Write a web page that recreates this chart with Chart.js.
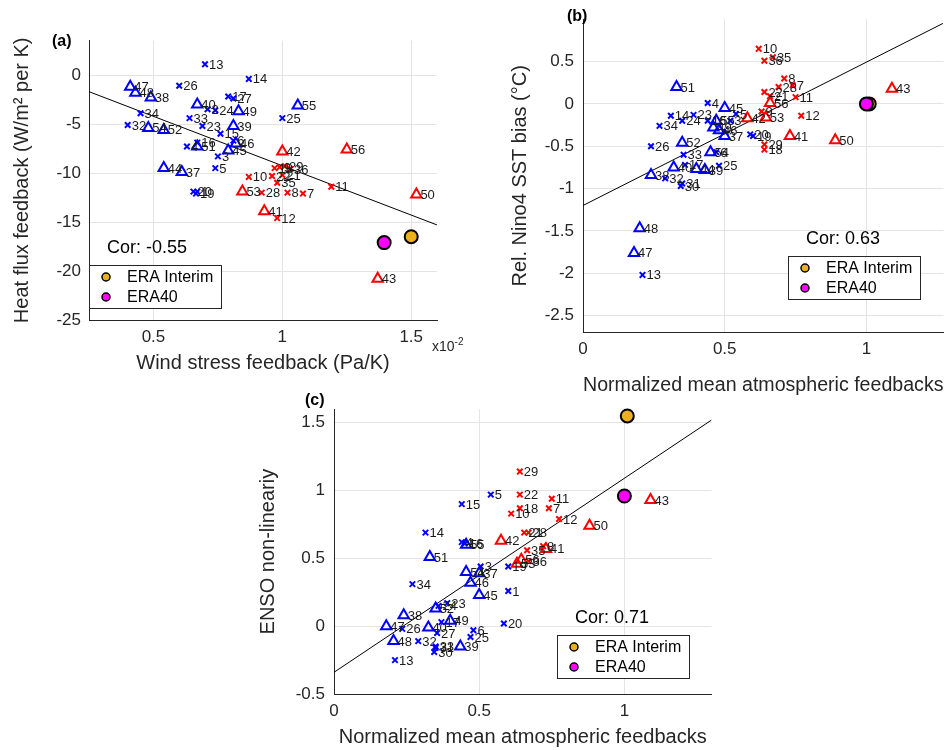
<!DOCTYPE html>
<html>
<head>
<meta charset="utf-8">
<script src="https://cdn.jsdelivr.net/npm/chart.js@4"></script>
<style>
  html, body { margin: 0; padding: 0; background: #fff; overflow: hidden; }
  body { width: 952px; height: 750px; position: relative; font-family: "Liberation Sans", Arial, sans-serif; }
  canvas { position: absolute; }
  .tag { position: absolute; font-weight: bold; font-size: 16px; color: #000; }
  .expo { position: absolute; font-size: 14px; color: #262626; }
  .expo sup { font-size: 10px; }
</style>
</head>
<body>
<canvas id="chartA" width="470" height="380" style="left:0;top:0"></canvas>
<canvas id="chartB" width="482" height="400" style="left:470px;top:0"></canvas>
<canvas id="chartC" width="480" height="360" style="left:240px;top:390px"></canvas>
<div class="tag" style="left:52px;top:32px">(a)</div>
<div class="tag" style="left:567px;top:7px">(b)</div>
<div class="tag" style="left:305px;top:391px">(c)</div>
<div class="expo" style="left:432px;top:336px">x10<sup>-2</sup></div>
<script>
const FONT = '"Liberation Sans", Arial, sans-serif';

// model numbers and groups
const modelIds = [1,2,3,4,5,6,7,8,9,10,11,12,13,14,15,16,17,18,19,20,21,22,23,24,25,26,27,28,
  29,30,31,32,33,34,35,36,37,38,39,40,41,42,43,44,45,46,47,48,49,50,51,52,53,54,55,56];
const redModels = [7,8,9,10,11,12,18,21,22,28,29,35,36,41,42,43,50,53,56];
const triangleModels = [37,38,39,40,41,42,43,44,45,46,47,48,49,50,51,52,53,54,55,56];

// (a) wind stress feedback (x 1e-2 Pa/K) vs heat flux feedback (W/m2 per K)
const aWindStress = [0.67,0.71,0.75,0.63,0.74,0.81,1.08,1.02,0.99,0.87,1.19,0.98,0.70,0.87,0.76,0.67,
  0.79,0.97,0.665,0.655,1.0,0.96,0.69,0.74,1.0,0.60,0.81,0.92,1.01,null,null,0.40,0.64,0.45,0.98,1.03,
  0.61,0.49,0.81,0.67,0.93,1.0,1.37,0.54,0.79,0.82,0.41,0.43,0.83,1.52,0.67,0.54,0.845,0.48,1.06,1.25];
const aHeatFlux = [-11.9,-3.5,-8.3,-7.3,-9.5,-6.7,-12.1,-12.0,-9.4,-10.4,-11.4,-14.6,1.1,-0.4,-6.0,-6.9,
  -2.2,-9.5,-12.1,-11.9,-10.2,-10.3,-5.2,-3.6,-4.4,-1.1,-2.4,-12.0,-9.3,null,null,-5.1,-4.4,-3.9,-11.0,-9.6,
  -9.9,-2.3,-5.2,-3.0,-13.9,-7.8,-20.8,-9.5,-7.7,-7.0,-1.2,-1.8,-3.7,-12.2,-7.3,-5.6,-11.9,-5.4,-3.1,-7.6];

// (b) normalized mean atmospheric feedbacks vs relative Nino4 SST bias
const bFeedback = [null,null,0.52,0.44,0.54,0.47,0.74,0.71,0.63,0.62,0.75,0.77,0.21,0.31,null,0.44,
  0.36,0.64,0.60,0.59,0.66,0.64,0.39,0.35,0.48,0.24,null,0.69,0.64,0.345,0.35,0.29,0.355,0.27,0.67,0.64,
  0.50,0.24,0.43,0.32,0.73,0.58,1.09,0.40,0.50,0.48,0.18,0.20,0.46,0.89,0.33,0.35,0.645,0.45,0.47,0.66];
const bSstBias = [null,null,-0.20,0.01,-0.12,-0.57,0.22,0.30,-0.09,0.65,0.08,-0.14,-2.02,-0.14,null,-0.20,
  -0.72,-0.54,-0.38,-0.36,0.09,0.14,-0.13,-0.20,-0.73,-0.50,null,0.20,-0.48,-0.97,-0.94,-0.88,-0.60,-0.26,0.55,0.51,
  -0.38,-0.84,-0.78,-0.75,-0.38,-0.17,0.18,-0.77,-0.05,-0.31,-1.76,-1.47,-0.28,-0.43,0.20,-0.46,-0.16,-0.57,-0.20,0.01];

// (c) normalized mean atmospheric feedbacks vs ENSO non-linearity
const cFeedback = [0.60,null,0.505,0.44,0.54,0.48,0.74,0.72,null,0.61,0.75,0.775,0.21,0.315,0.44,0.45,
  0.37,0.64,0.60,0.585,0.655,0.64,0.39,0.36,0.47,0.235,0.355,0.67,0.64,0.345,0.35,0.29,0.35,0.27,0.665,0.67,
  0.50,0.24,0.435,0.325,0.73,0.575,1.09,null,0.50,0.47,0.18,0.205,0.40,0.88,0.33,0.35,0.63,0.455,0.455,0.645];
const cNonlinearity = [0.26,null,0.44,0.62,0.97,-0.03,0.87,0.59,null,0.83,0.94,0.79,-0.25,0.69,0.90,0.61,
  0.03,0.87,0.44,0.02,0.69,0.97,0.17,0.15,-0.08,-0.02,-0.05,0.69,1.14,-0.19,-0.16,-0.11,-0.15,0.31,0.56,0.48,
  0.39,0.08,-0.15,-0.01,0.57,0.63,0.93,null,0.23,0.32,0.00,-0.11,0.04,0.74,0.51,0.13,0.46,0.40,0.60,0.49];

// reanalyses: ERA Interim, ERA40
const eraNames = ['ERA Interim', 'ERA40'];
const aEraX = [1.50, 1.395];
const aEraY = [-16.5, -17.1];
const bEraX = [1.01, 1.0];
const bEraY = [0.0, 0.0];
const cEraX = [1.01, 1.0];
const cEraY = [1.55, 0.96];

// regression line end points
const aFitX = [0.25, 1.6];
const aFitY = [-1.7, -15.3];
const bFitX = [0, 1.27];
const bFitY = [-1.2, 0.95];
const cFitX = [0, 1.3];
const cFitY = [-0.34, 1.52];

const corValues = ['-0.55', '0.63', '0.71'];

// tick labels
const aXTicks = [0.5, 1, 1.5];
const aYTicks = [-25, -20, -15, -10, -5, 0];
const bXTicks = [0, 0.5, 1];
const bYTicks = [-2.5, -2, -1.5, -1, -0.5, 0, 0.5];
const cXTicks = [0, 0.5, 1];
const cYTicks = [-0.5, 0, 0.5, 1, 1.5];

const eraColors = ['#EDB120', '#FF00FF'];

function groupPoints(xs, ys, red, tri) {
  const out = [];
  modelIds.forEach((id, i) => {
    if (xs[i] == null || ys[i] == null) return;
    if (redModels.includes(id) !== red) return;
    if (triangleModels.includes(id) !== tri) return;
    out.push({ x: xs[i], y: ys[i], id: id });
  });
  return out;
}

function panelDatasets(xs, ys, eraX, eraY, fitX, fitY) {
  const sets = [];
  // ERA40 first so it sits on top
  [1, 0].forEach(k => {
    sets.push({
      data: [{ x: eraX[k], y: eraY[k] }],
      pointStyle: 'circle',
      pointRadius: 6.5,
      pointBorderWidth: 2,
      pointBackgroundColor: eraColors[k],
      pointBorderColor: '#000',
      clip: false
    });
  });
  [[true, true], [true, false], [false, true], [false, false]].forEach(([red, tri]) => {
    sets.push({
      data: groupPoints(xs, ys, red, tri),
      pointStyle: tri ? 'triangle' : 'crossRot',
      pointRadius: tri ? 6 : 3.9,
      pointBorderWidth: 2,
      pointBorderColor: red ? '#ff0000' : '#0000ff',
      pointBackgroundColor: 'rgba(0,0,0,0)',
      clip: false,
      idLabels: true
    });
  });
  sets.push({
    data: fitX.map((x, i) => ({ x: x, y: fitY[i] })),
    showLine: true,
    borderColor: '#000',
    borderWidth: 1,
    pointRadius: 0
  });
  return sets;
}

function axis(o) {
  return {
    type: 'linear',
    min: o.min,
    max: o.max,
    afterBuildTicks: s => { s.ticks = o.ticks.map(v => ({ value: v })); },
    afterFit: s => {
      if (o.w != null) s.width = o.w;
      if (o.h != null) s.height = o.h;
    },
    grid: { color: '#e4e4e4', lineWidth: 1, drawTicks: false },
    border: { display: true, color: '#262626', width: 1 },
    ticks: {
      color: '#262626',
      padding: o.pad,
      font: { family: FONT, size: 17 },
      callback: v => String(v)
    },
    title: {
      display: true,
      text: o.title,
      color: '#262626',
      font: { family: FONT, size: 20 },
      padding: o.titlePad
    }
  };
}

const idLabels = {
  id: 'idLabels',
  afterDatasetsDraw(chart) {
    const ctx = chart.ctx;
    ctx.save();
    ctx.font = '13px ' + FONT;
    ctx.fillStyle = '#1a1a1a';
    ctx.textAlign = 'left';
    ctx.textBaseline = 'middle';
    chart.data.datasets.forEach((ds, di) => {
      if (!ds.idLabels) return;
      chart.getDatasetMeta(di).data.forEach((el, k) => {
        ctx.fillText(String(ds.data[k].id), el.x + 4, el.y + 1);
      });
    });
    ctx.restore();
  }
};

const eraLegend = {
  id: 'eraLegend',
  afterDraw(chart, args, o) {
    const ctx = chart.ctx;
    ctx.save();
    ctx.fillStyle = '#000';
    ctx.textAlign = 'left';
    ctx.textBaseline = 'middle';
    ctx.font = '18px ' + FONT;
    ctx.fillText('Cor: ' + o.cor, o.x + 18, o.y - 17);
    ctx.fillStyle = '#fff';
    ctx.fillRect(o.x, o.y, 132, 43);
    ctx.strokeStyle = '#262626';
    ctx.lineWidth = 1;
    ctx.strokeRect(o.x + 0.5, o.y + 0.5, 132, 43);
    ctx.font = '16px ' + FONT;
    eraNames.forEach((name, k) => {
      const cy = o.y + 12 + k * 20;
      ctx.beginPath();
      ctx.arc(o.x + 17, cy, 4, 0, Math.PI * 2);
      ctx.fillStyle = eraColors[k];
      ctx.fill();
      ctx.lineWidth = 1.5;
      ctx.strokeStyle = '#000';
      ctx.stroke();
      ctx.fillStyle = '#000';
      ctx.fillText(name, o.x + 38, cy + 1);
    });
    ctx.restore();
  }
};

function makeChart(id, datasets, xAxis, yAxis, padding, legend) {
  return new Chart(document.getElementById(id), {
    type: 'scatter',
    data: { datasets: datasets },
    options: {
      responsive: false,
      animation: false,
      events: [],
      layout: { padding: padding },
      scales: { x: xAxis, y: yAxis },
      plugins: {
        legend: { display: false },
        tooltip: { enabled: false },
        eraLegend: legend
      }
    },
    plugins: [idLabels, eraLegend]
  });
}

makeChart('chartA',
  panelDatasets(aWindStress, aHeatFlux, aEraX, aEraY, aFitX, aFitY),
  axis({ min: 0.25, max: 1.6, ticks: aXTicks, h: 60, pad: 7, title: 'Wind stress feedback (Pa/K)', titlePad: { top: 0, bottom: 5 } }),
  axis({ min: -25, max: 3.5, ticks: aYTicks, w: 89, pad: 8, title: 'Heat flux feedback (W/m\u00b2 per K)', titlePad: { top: 10, bottom: 0 } }),
  { left: 0, top: 40.7, right: 33, bottom: 0 },
  { cor: corValues[0], x: 89, y: 265 });

makeChart('chartB',
  panelDatasets(bFeedback, bSstBias, bEraX, bEraY, bFitX, bFitY),
  axis({ min: 0, max: 1.272, ticks: bXTicks, h: 67.5, pad: 7, title: 'Normalized mean atmospheric feedbacks', titlePad: { top: 0, bottom: 3 } }),
  axis({ min: -2.7, max: 1.0, ticks: bYTicks, w: 113, pad: 9, title: 'Rel. Nino4 SST bias (\u00b0C)', titlePad: { top: 38, bottom: 0 } }),
  { left: 0, top: 12.8, right: 0, bottom: 0 },
  { cor: corValues[1], x: 318, y: 256 });

makeChart('chartC',
  panelDatasets(cFeedback, cNonlinearity, cEraX, cEraY, cFitX, cFitY),
  axis({ min: 0, max: 1.3, ticks: cXTicks, h: 56, pad: 7, title: 'Normalized mean atmospheric feedbacks', titlePad: { top: 0, bottom: 1 } }),
  axis({ min: -0.5, max: 1.6, ticks: cYTicks, w: 94, pad: 9, title: 'ENSO non-lineariy', titlePad: { top: 16, bottom: 0 } }),
  { left: 0, top: 10, right: 6.4, bottom: 0 },
  { cor: corValues[2], x: 317, y: 245 });
</script>
</body>
</html>
